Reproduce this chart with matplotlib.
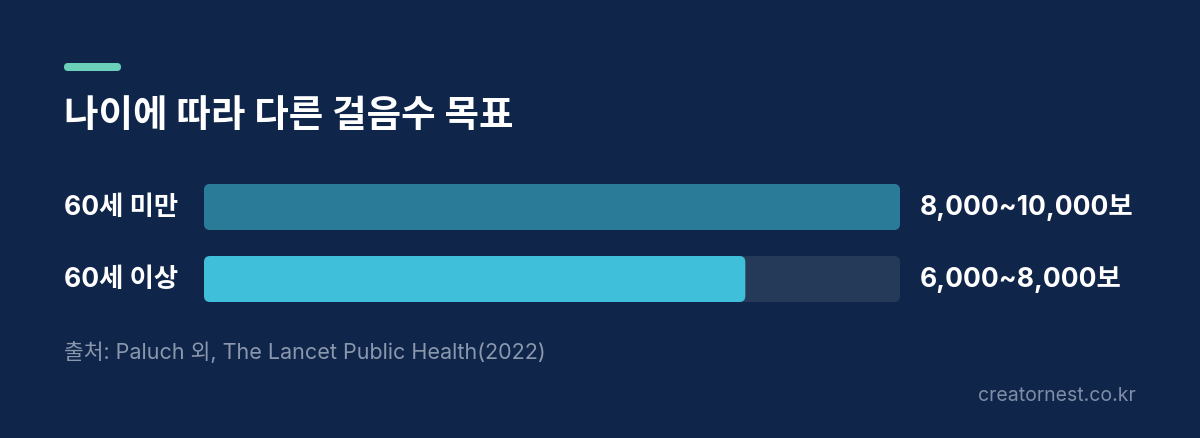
import matplotlib.pyplot as plt
from matplotlib.patches import FancyBboxPatch

plt.rcParams['font.family'] = ['Inter', 'Noto Sans CJK KR', 'DejaVu Sans']

# data
groups = ['60세 미만', '60세 이상']
step_low = [8000, 6000]
step_high = [10000, 8000]
step_mid = [(lo + hi) / 2 for lo, hi in zip(step_low, step_high)]
range_labels = ['8,000~10,000보', '6,000~8,000보']

title = '나이에 따라 다른 걸음수 목표'
source = '출처: Paluch 외, The Lancet Public Health(2022)'
credit = 'creatornest.co.kr'

bg = '#10254a'
bar_colors = ['#2a7b98', '#3fbfd9']
track_color = '#253a58'

W, H = 1200, 439
fig = plt.figure(figsize=(W / 100, H / 100), dpi=100)
fig.patch.set_facecolor(bg)

# accent line + title (accent box in pixel units)
acc = fig.add_axes([0, 0, 1, 1])
acc.set_xlim(0, W)
acc.set_ylim(H, 0)
acc.axis('off')
acc.add_patch(FancyBboxPatch((64, 64), 57, 8, boxstyle='round,pad=0,rounding_size=4',
                             fc='#6ccfb9', ec='none'))
fig.text(64 / W, 1 - 117 / H, title, color='white', fontsize=27,
         fontweight='bold', va='center', ha='left')

# bar axes: x 204..900 px, y 185..303 px
x0, x1, y0, y1 = 204, 900, 185, 303
ax = fig.add_axes([x0 / W, 1 - y1 / H, (x1 - x0) / W, (y1 - y0) / H])
ax.set_facecolor('none')
vmax = max(step_mid)
ax.set_xlim(0, vmax)
bh = 46 / 72
ax.set_ylim(1 + bh / 2, -bh / 2)
ax.axis('off')

ypos = list(range(len(groups)))
tracks = ax.barh(ypos, [vmax] * len(groups), height=bh, color=track_color)
bars = ax.barh(ypos, step_mid, height=bh, color=bar_colors)

# swap rectangles for rounded ones
px_x = vmax / (x1 - x0)
px_y = (1 + bh) / (y1 - y0)
r = 6
for rects in (tracks, bars):
    for rect in rects:
        rb = FancyBboxPatch((rect.get_x(), rect.get_y()), rect.get_width(), rect.get_height(),
                            boxstyle=f'round,pad=0,rounding_size={r * px_x}',
                            mutation_aspect=px_y / px_x,
                            fc=rect.get_facecolor(), ec='none')
        rect.set_visible(False)
        ax.add_patch(rb)

for y, g, lab in zip(ypos, groups, range_labels):
    ax.text(-26 * px_x, y, g, color='white', fontsize=19, fontweight='bold',
            ha='right', va='center')
    ax.text(vmax + 20 * px_x, y, lab, color='white', fontsize=19, fontweight='bold',
            ha='left', va='center')

fig.text(64 / W, 1 - 352 / H, source, color='#8a98ae', fontsize=15.5,
         ha='left', va='center')
fig.text(1136 / W, 1 - 396 / H, credit, color='#7f8ea6', fontsize=14,
         ha='right', va='center')

fig.savefig('out.png', dpi=100, facecolor=bg)
